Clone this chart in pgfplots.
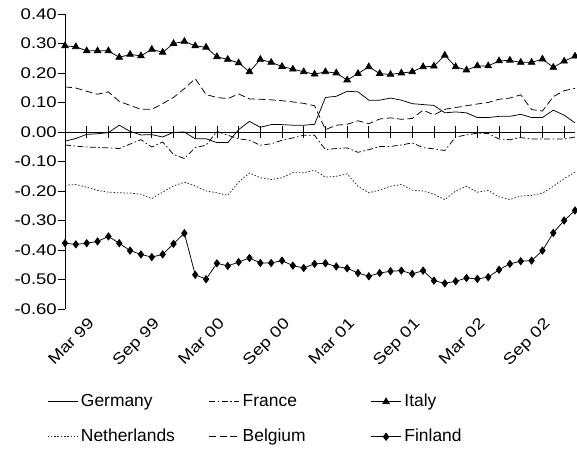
\documentclass[border=0pt]{standalone}
\usepackage{fontspec}
\setmainfont{Liberation Sans}
\newfontfamily\tickfont{Liberation Sans}[FakeStretch=1.2]
\usepackage{pgfplots}
\usepackage{pgfplotstable}
\pgfplotsset{compat=1.18}
\pgfplotstableread{
i ger fra ita ned bel fin
0 -0.031 -0.044 0.292 -0.181 0.153 -0.377
1 -0.022 -0.048 0.289 -0.178 0.149 -0.381
2 -0.008 -0.051 0.275 -0.187 0.138 -0.377
3 -0.006 -0.052 0.275 -0.198 0.128 -0.371
4 -0.002 -0.054 0.275 -0.204 0.136 -0.354
5 0.023 -0.056 0.253 -0.206 0.104 -0.377
6 0.002 -0.041 0.263 -0.207 0.090 -0.402
7 -0.010 -0.026 0.258 -0.211 0.077 -0.415
8 -0.009 -0.051 0.280 -0.226 0.077 -0.424
9 -0.017 -0.034 0.270 -0.204 0.096 -0.415
10 -0.001 -0.076 0.300 -0.183 0.117 -0.379
11 0.000 -0.090 0.307 -0.170 0.147 -0.343
12 -0.023 -0.053 0.292 -0.183 0.181 -0.484
13 -0.023 -0.045 0.287 -0.200 0.127 -0.499
14 -0.036 0.002 0.255 -0.206 0.117 -0.445
15 -0.036 -0.011 0.246 -0.215 0.113 -0.454
16 0.008 -0.023 0.234 -0.170 0.129 -0.441
17 0.036 -0.028 0.204 -0.139 0.112 -0.427
18 0.016 -0.045 0.246 -0.155 0.111 -0.444
19 0.025 -0.040 0.236 -0.161 0.109 -0.444
20 0.025 -0.028 0.222 -0.155 0.106 -0.436
21 0.023 -0.020 0.213 -0.138 0.102 -0.453
22 0.023 -0.011 0.204 -0.138 0.097 -0.461
23 0.026 -0.011 0.196 -0.130 0.089 -0.447
24 0.117 -0.060 0.204 -0.153 0.008 -0.445
25 0.121 -0.056 0.200 -0.150 0.023 -0.456
26 0.138 -0.054 0.176 -0.142 0.026 -0.462
27 0.136 -0.069 0.198 -0.184 0.038 -0.478
28 0.108 -0.060 0.221 -0.206 0.028 -0.489
29 0.108 -0.049 0.198 -0.197 0.044 -0.478
30 0.115 -0.049 0.195 -0.184 0.048 -0.472
31 0.108 -0.044 0.200 -0.178 0.043 -0.470
32 0.096 -0.037 0.204 -0.197 0.046 -0.481
33 0.093 -0.053 0.221 -0.200 0.074 -0.470
34 0.090 -0.057 0.223 -0.211 0.058 -0.504
35 0.065 -0.063 0.260 -0.229 0.077 -0.513
36 0.068 -0.017 0.221 -0.200 0.083 -0.506
37 0.065 -0.010 0.210 -0.184 0.089 -0.495
38 0.049 -0.004 0.224 -0.204 0.095 -0.498
39 0.049 -0.005 0.224 -0.198 0.100 -0.492
40 0.053 -0.024 0.241 -0.220 0.111 -0.467
41 0.053 -0.026 0.243 -0.229 0.115 -0.447
42 0.060 -0.019 0.236 -0.217 0.126 -0.438
43 0.049 -0.024 0.236 -0.215 0.076 -0.436
44 0.049 -0.024 0.247 -0.207 0.071 -0.402
45 0.074 -0.024 0.219 -0.184 0.120 -0.342
46 0.057 -0.024 0.240 -0.158 0.140 -0.300
47 0.031 -0.017 0.257 -0.136 0.148 -0.266
}\data
\begin{document}
\begin{tikzpicture}
\useasboundingbox (0,0) rectangle (577bp,450bp);
\pgfplotsset{
  base/.style={
    scale only axis, width=510bp, height=295bp,
    at={(65bp,141bp)}, anchor=south west,
    xmin=0, xmax=47, ymin=-0.6, ymax=0.4,
  }
}
\begin{axis}[base,
  clip=false,
  axis x line=bottom, axis y line=left,
  axis line style={-},
  x axis line style={draw=none},
  y axis line style={black, line width=0.8pt},
  xtick={2,8,14,20,26,32,38,44},
  xticklabels={Mar 99,Sep 99,Mar 00,Sep 00,Mar 01,Sep 01,Mar 02,Sep 02},
  x tick style={draw=none},
  xticklabel style={font=\tickfont\fontsize{15.5}{15.5}\selectfont, rotate=45, anchor=north east, inner sep=1pt, xshift=1bp},
  ytick={-0.6,-0.5,-0.4,-0.3,-0.2,-0.1,0,0.1,0.2,0.3,0.4},
  yticklabels={-0.60,-0.50,-0.40,-0.30,-0.20,-0.10,0.00,0.10,0.20,0.30,0.40},
  yticklabel style={font=\tickfont\fontsize{15.5}{15.5}\selectfont, inner sep=1pt, xshift=0bp},
  y tick style={black, line width=0.8pt},
  tick align=outside, major tick length=7bp,
  legend columns=3,
  legend image code/.code={\draw[mark repeat=2,mark phase=2,#1] plot coordinates {(0bp,0bp) (15bp,0bp) (30bp,0bp)};},
  legend style={draw=none, fill=none, inner sep=0pt,
    at={(axis description cs:-0.0353,-0.285)}, anchor=north west,
    font=\fontsize{17.5}{17.5}\selectfont,
    nodes={inner sep=0pt, text height=13bp, text depth=4bp},
    row sep=18bp,
    /tikz/every odd column/.append style={column sep=3bp}},
  legend cell align=left,
]
\addplot[black, line width=0.75pt] table[x=i, y=ger] {\data};
\addlegendentry{\makebox[128bp][l]{Germany}}
\addplot[black, line width=0.75pt, dash pattern=on 6bp off 2.5bp on 1.5bp off 2.5bp] table[x=i, y=fra] {\data};
\addlegendentry{\makebox[128bp][l]{France}}
\addplot[black, line width=0.75pt, mark=triangle*, mark size=3.8bp] table[x=i, y=ita] {\data};
\addlegendentry{\makebox[128bp][l]{Italy}}
\addplot[black!85, line width=0.75pt, dash pattern=on 1.5bp off 1.8bp] table[x=i, y=ned] {\data};
\addlegendentry{\makebox[128bp][l]{Netherlands}}
\addplot[black, line width=0.75pt, dash pattern=on 7bp off 3.5bp] table[x=i, y=bel] {\data};
\addlegendentry{\makebox[128bp][l]{Belgium}}
\addplot[black, line width=0.75pt, mark=diamond*, mark size=3.6bp] table[x=i, y=fin] {\data};
\addlegendentry{\makebox[128bp][l]{Finland}}
\end{axis}
\begin{axis}[base,
  axis x line=middle, axis y line=none,
  axis line style={-},
  x axis line style={black, line width=0.8pt},
  xtick={0,2,...,46}, xticklabels={},
  ytick=\empty,
  x tick style={black, line width=0.8pt},
  xtick align=center, major tick length=12bp,
]
\end{axis}
\end{tikzpicture}
\end{document}
